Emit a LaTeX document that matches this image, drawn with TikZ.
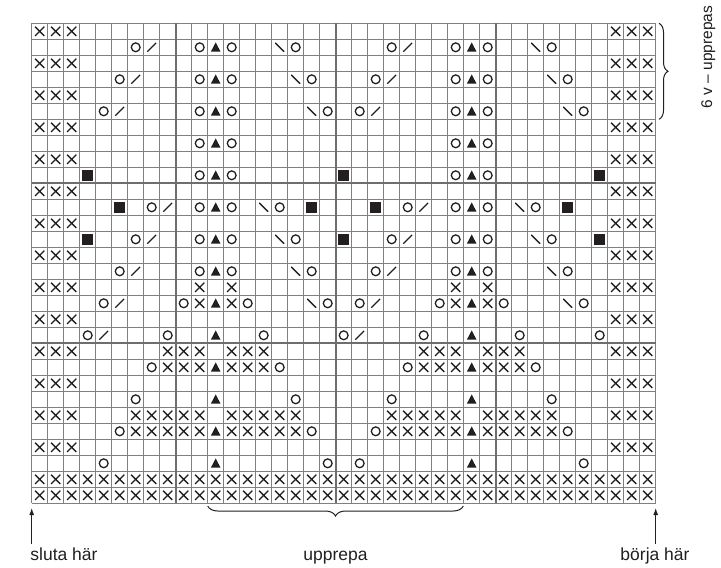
\documentclass[tikz,border=0pt]{standalone}
\usepackage{fontspec}
\setmainfont{Liberation Sans}
\usetikzlibrary{decorations.pathreplacing,arrows.meta}
\definecolor{gridc}{HTML}{808080}
\definecolor{thkc}{HTML}{6E6E6E}
\definecolor{ink}{HTML}{231F20}
\tikzset{
  gl/.style={draw=gridc,line width=0.9pt},
  thk/.style={draw=thkc,line width=1.9pt},
  sym/.style={draw=ink,line width=1.3pt},
  symf/.style={fill=ink,draw=none},
  lab/.style={font=\fontsize{17.5}{21}\selectfont,text=ink,inner sep=0pt},
  sidelab/.style={font=\fontsize{15.5}{19}\selectfont,text=ink,inner sep=0pt},
  arr/.style={draw=ink,line width=1pt,-{Latex[length=7pt,width=5pt]}},
  brc/.style={draw=ink,line width=1pt,decorate},
  px/.pic={\draw[sym] (-4.6pt,-4.6pt)--(4.6pt,4.6pt) (-4.6pt,4.6pt)--(4.6pt,-4.6pt);},
  po/.pic={\draw[sym] (0pt,0pt) circle[radius=4.4pt];},
  ptri/.pic={\fill[symf] (-4.8pt,-4.3pt)--(4.8pt,-4.3pt)--(0pt,4.9pt)--cycle;},
  psq/.pic={\fill[symf] (-5.3pt,-5.3pt) rectangle (5.3pt,5.3pt);},
  psl/.pic={\draw[sym] (-4.4pt,-4.4pt)--(4.4pt,4.4pt);},
  pbs/.pic={\draw[sym] (-4.4pt,4.4pt)--(4.4pt,-4.4pt);}
}
\begin{document}
\begin{tikzpicture}[x=1pt,y=-1pt]
\useasboundingbox (0,0) rectangle (721,568);
\begin{scope}[shift={(31.7,23.3)},x=16pt,y=-16pt]
  % grid
  \foreach \c in {0,...,39} \draw[gl] (\c,0) -- (\c,30);
  \foreach \r in {0,...,30} \draw[gl] (0,\r) -- (39,\r);
  \draw[thk] (9,0)--(9,30) (19,0)--(19,30) (29,0)--(29,30)
             (0,10)--(39,10) (0,20)--(39,20);
  % crosses: edges on odd rows
  \foreach \r in {1,3,...,27}
    \foreach \c in {1,2,3,37,38,39} \pic at (\c-0.5,\r-0.5) {px};
  \foreach \r/\cl in {17/{11,13,27,29},18/{11,13,27,29},
      21/{9,10,11,13,14,15,25,26,27,29,30,31},
      22/{9,10,11,13,14,15,25,26,27,29,30,31},
      25/{7,8,9,10,11,13,14,15,16,17,23,24,25,26,27,29,30,31,32,33},
      26/{7,8,9,10,11,13,14,15,16,17,23,24,25,26,27,29,30,31,32,33}}
    \foreach \c in \cl \pic at (\c-0.5,\r-0.5) {px};
  \foreach \r in {29,30}
    \foreach \c in {1,...,39} \pic at (\c-0.5,\r-0.5) {px};
  % circles
  \foreach \r/\cl in {2/{7,11,13,17,23,27,29,33},
      4/{6,11,13,18,22,27,29,34},
      6/{5,11,13,19,21,27,29,35},
      8/{11,13,27,29},
      10/{11,13,27,29},
      12/{8,11,13,16,24,27,29,32},
      14/{7,11,13,17,23,27,29,33},
      16/{6,11,13,18,22,27,29,34},
      18/{5,10,14,19,21,26,30,35},
      20/{4,9,15,20,25,31,36},
      22/{8,16,24,32},
      24/{7,17,23,33},
      26/{6,18,22,34},
      28/{5,19,21,35}}
    \foreach \c in \cl \pic at (\c-0.5,\r-0.5) {po};
  % triangles
  \foreach \r in {2,4,...,28}
    \foreach \c in {12,28} \pic at (\c-0.5,\r-0.5) {ptri};
  % squares
  \foreach \r/\cl in {10/{4,20,36},12/{6,18,22,34},14/{4,20,36}}
    \foreach \c in \cl \pic at (\c-0.5,\r-0.5) {psq};
  % slashes
  \foreach \r/\cl in {2/{8,24},4/{7,23},6/{6,22},12/{9,25},14/{8,24},
      16/{7,23},18/{6,22},20/{5,21}}
    \foreach \c in \cl \pic at (\c-0.5,\r-0.5) {psl};
  % backslashes
  \foreach \r/\cl in {2/{16,32},4/{17,33},6/{18,34},12/{15,31},14/{16,32},
      16/{17,33},18/{18,34}}
    \foreach \c in \cl \pic at (\c-0.5,\r-0.5) {pbs};
\end{scope}
% braces
\draw[brc,decoration={brace,amplitude=10pt}] (463.3,506) -- (207.7,506);
\draw[brc,decoration={brace,amplitude=9pt}] (659,23.3) -- (659,119.3);
% labels
\node[lab,anchor=base] (sluta) at (64,560) {sluta här};
\node[lab,anchor=base] (upp) at (335.5,560) {upprepa};
\node[lab,anchor=base] (borja) at (655,560) {börja här};
\node[sidelab,anchor=base,rotate=90] (rep) at (712,57) {6 v – upprepas};
% arrows
\coordinate (lt) at (31.7,508);
\coordinate (rt) at (655.7,508);
\draw[arr] (sluta.north -| lt) ++(0,-3) -- (lt);
\draw[arr] (borja.north -| rt) ++(0,-3) -- (rt);
\end{tikzpicture}
\end{document}
